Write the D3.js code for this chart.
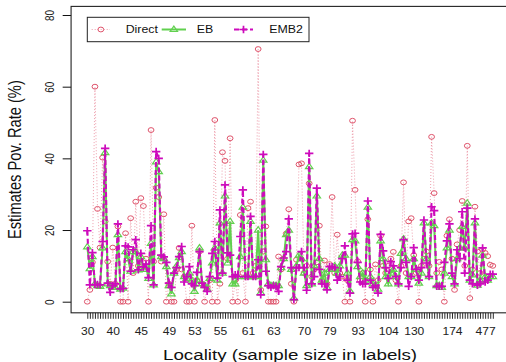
<!DOCTYPE html>
<html>
<head>
<meta charset="utf-8">
<script src="https://cdn.jsdelivr.net/npm/d3@7/dist/d3.min.js"></script>
<style>
  body { margin: 0; background: #fff; }
  text { font-family: "Liberation Sans", Arial, Helvetica, sans-serif; }
</style>
</head>
<body>
<div id="plot-container"></div>
<script>
// one value per locality, localities sorted by sample size
const direct = [
  0, 3.3, 11, 60, 25.9, 15.1, 40.2, 22.4, 11.2, 5,
  15.1, 5, 21, 0, 0, 19.1, 0, 23.3, 8, 27.9,
  10, 28.9, 26.7, 12, 0, 47.9, 11.2, 31.8, 29.2, 11.2,
  24.4, 0, 5, 0, 0, 9, 15, 9, 7, 0,
  0, 21.2, 0, 6, 14, 5, 0, 4, 6, 0,
  50.7, 0, 5, 41.7, 39.3, 12, 45.6, 0, 6, 0,
  24.2, 8, 0, 26.1, 27.9, 8, 10, 70.5, 3.3, 14,
  21, 0, 0, 0, 0, 12.6, 9, 12, 19, 25.8,
  5, 0, 11.7, 38.3, 38.6, 8, 10, 33, 7, 9,
  11, 21.2, 6, 11.5, 5, 10.5, 29.2, 8, 18.7, 8,
  7, 0, 6, 0, 50.5, 31.2, 11.3, 6, 8, 0,
  23, 9, 0, 10.4, 6, 18.4, 10, 8, 10, 12,
  13.9, 6, 0, 10, 33.3, 8, 22.4, 23.3, 13, 8,
  0, 10, 12, 14, 10, 46, 30.3, 8, 11.1, 9,
  0, 18.4, 23, 12, 3.3, 16, 20, 28.1, 10, 43.5,
  1, 9, 26.5, 14, 8, 14.5, 13.6, 12.7, 10.3, 10
];
const eb = [
  15.3, 9.2, 12.6, 5, 4.5, 4.3, 15, 41.6, 5, 4.5,
  4, 4, 18.7, 3.5, 3.8, 14, 12, 8.5, 14, 14,
  8.9, 12.6, 9, 10, 6.5, 16.3, 4.7, 39, 36.3, 12.6,
  12, 9.8, 4.5, 2.2, 8, 10, 12.3, 14, 7, 6.5,
  8, 6, 2.9, 6, 15, 5, 4.5, 3.5, 6.5, 10.8,
  15, 6, 22, 8, 29.5, 10.8, 22.4, 5, 5, 7,
  12.6, 26.4, 7, 7, 22.4, 7, 7, 20, 2.5, 39.5,
  11.7, 5, 4.5, 4.5, 4.5, 4.5, 9.5, 12, 18.7, 20,
  9, 1, 10, 13, 12, 8, 4.5, 37.7, 5, 10,
  29.5, 12, 6, 8, 4, 9, 9, 10, 8, 10,
  13, 13, 8, 3, 17.3, 17, 9.8, 7, 8, 6,
  26.4, 7, 5, 4.5, 3.5, 17, 12, 7, 5, 8,
  9, 7, 5, 13.5, 17.5, 12, 7, 7, 12, 9,
  5.2, 8, 22, 12, 7, 22, 21.2, 4.5, 4.5, 4,
  8, 15, 20, 7, 5, 12, 15, 21, 15, 27.5,
  6, 7.5, 22, 4.6, 6, 13, 7, 6, 7, 7
];
const emb2 = [
  19.8, 4.7, 13.7, 4.8, 4.8, 4.7, 16.8, 42.8, 5.2, 2.6,
  4.5, 5, 21.7, 3.6, 3.7, 15.6, 15.3, 8.5, 14.5, 17.3,
  8.9, 13.5, 9.7, 10.5, 6.7, 21.2, 4.7, 41.9, 40, 13,
  12.5, 11, 5.2, 4, 8, 9.5, 12.6, 15.4, 5.5, 7,
  9.8, 5, 4.5, 8.2, 14, 5.2, 4, 2.9, 7, 13.5,
  16.8, 6.6, 25.6, 8, 32.6, 13.6, 13, 7, 7.5, 7,
  18.2, 31.2, 7, 7, 23.8, 7, 7, 11.7, 1.9, 41.1,
  8.5, 4.5, 4, 4.5, 4.3, 2.9, 9.8, 12.2, 14, 23.1,
  9.5, 0.6, 9.5, 9.5, 14, 9.5, 3.2, 41.4, 5, 7,
  31.7, 9, 5, 5, 3.3, 9.8, 9.8, 9.5, 6, 7,
  12, 15.6, 6, 2.4, 18.9, 19.1, 11, 5.5, 5, 5,
  28.1, 6, 4, 4.5, 2.4, 18.8, 14.2, 9.5, 6.5, 11.2,
  10, 7, 5, 9.5, 17.3, 11, 4.3, 7, 15.1, 9,
  6, 9.5, 22.8, 10.8, 7, 26.5, 25.4, 4.3, 4.3, 4.3,
  11, 17, 21.7, 8, 5, 14.5, 12, 25.1, 8, 26.1,
  6, 5, 23.1, 4.6, 5, 15, 5.5, 6, 7.7, 7.7
];

// sample sizes that fit as labels, and the locality they sit under
const sampleLabels = ['30', '40', '45', '49', '53', '55', '61', '63', '70', '79', '93', '104', '130', '174', '477'];
const sampleLabelAt = [1, 11, 22, 33, 43, 53, 64, 74, 86, 96, 107, 119, 129, 144, 157];

const seriesNames = ['Direct', 'EB', 'EMB2'];
const seriesColors = ['#DF536B', '#61D04F', '#CD0BBC'];
const yTicks = [0, 20, 40, 60, 80];

const canvasWidth = 506;
const canvasHeight = 362;
const sx = 1.21; // the reference picture is stretched sideways, text too

const svg = d3.select('#plot-container')
  .append('svg')
  .attr('width', canvasWidth)
  .attr('height', canvasHeight);

const n = direct.length;
const idx = d3.range(1, n + 1);

const xScale = d3.scaleLinear().domain([1, n]).range([87.3, 492.8]);
const yScale = d3.scaleLinear().domain([0, 80]).range([301.7, 15]);

const boxLeft = xScale(1 - 0.04 * (n - 1));
const boxRight = xScale(n + 0.04 * (n - 1));
const boxTop = yScale(82.4);
const boxBottom = yScale(-3.1);

// x axis: a tick for every locality, labels only where they fit
const labelMap = new Map(sampleLabelAt.map((d, i) => [d, sampleLabels[i]]));
const xAxis = d3.axisBottom(xScale)
  .tickValues(idx)
  .tickSize(6)
  .tickPadding(9.3)
  .tickFormat(d => labelMap.get(d) || '');

const gx = svg.append('g')
  .attr('transform', `translate(0, ${boxBottom})`)
  .call(xAxis);
gx.select('.domain').remove();
gx.selectAll('.tick line').attr('stroke', '#111').attr('stroke-width', 0.9);
gx.selectAll('.tick text')
  .attr('font-size', 10)
  .attr('fill', '#222')
  .attr('font-family', '"Liberation Sans", Arial, sans-serif')
  .attr('transform', `scale(${sx},1)`);

const yAxis = d3.axisLeft(yScale).tickValues(yTicks).tickSize(8.4);
const gy = svg.append('g')
  .attr('transform', `translate(${boxLeft}, 0)`)
  .call(yAxis);
gy.select('.domain').remove();
gy.selectAll('.tick line').attr('stroke', '#111');
gy.selectAll('.tick text')
  .attr('x', 0).attr('dy', 0)
  .attr('text-anchor', 'middle')
  .attr('font-size', 10)
  .attr('fill', '#222')
  .attr('font-family', '"Liberation Sans", Arial, sans-serif')
  .attr('transform', `translate(-16.7, 0) scale(${sx},1) rotate(-90)`);

// plot box
svg.append('rect')
  .attr('x', boxLeft).attr('y', boxTop)
  .attr('width', boxRight - boxLeft).attr('height', boxBottom - boxTop)
  .attr('fill', 'none').attr('stroke', '#222').attr('stroke-width', 1.1);

// axis titles
svg.append('text')
  .attr('text-anchor', 'middle')
  .attr('font-size', 15.5)
  .attr('fill', '#111')
  .attr('transform', `translate(${(boxLeft + boxRight) / 2}, 359.5) scale(${sx},1)`)
  .text('Locality (sample size in labels)');

svg.append('text')
  .attr('text-anchor', 'middle')
  .attr('font-size', 14.7)
  .attr('fill', '#111')
  .attr('transform', `translate(21, ${(boxTop + boxBottom) / 2}) scale(${sx},1) rotate(-90)`)
  .text('Estimates Pov. Rate (%)');

// markers
const circlePath = 'M -2.9 0 A 2.9 2.4 0 1 0 2.9 0 A 2.9 2.4 0 1 0 -2.9 0 Z';
const trianglePath = 'M -3.7 2 L 3.7 2 L 0 -3.4 Z';
const plusPath = 'M -4.2 0 H 4.2 M 0 -3.7 V 3.7';

const series = [
  { values: direct, color: seriesColors[0], width: 0.8, dash: '1,2', opacity: 0.7, marker: circlePath, mw: 1 },
  { values: eb, color: seriesColors[1], width: 2, dash: null, opacity: 1, marker: trianglePath, mw: 1.2 },
  { values: emb2, color: seriesColors[2], width: 2.1, dash: '5,3', opacity: 1, marker: plusPath, mw: 1.7 }
];

const line = d3.line()
  .x((d, i) => xScale(idx[i]))
  .y(d => yScale(d));

series.forEach(s => {
  svg.append('path')
    .attr('d', line(s.values))
    .attr('fill', 'none')
    .attr('stroke', s.color)
    .attr('stroke-width', s.width)
    .attr('stroke-opacity', s.opacity)
    .attr('stroke-dasharray', s.dash);

  svg.append('g')
    .selectAll('path')
    .data(s.values)
    .enter()
    .append('path')
    .attr('d', s.marker)
    .attr('transform', (d, i) => `translate(${xScale(idx[i])}, ${yScale(d)})`)
    .attr('fill', 'none')
    .attr('stroke', s.color)
    .attr('stroke-width', s.mw);
});

// legend
const legend = svg.append('g');
legend.append('rect')
  .attr('x', 87.3).attr('y', 17.3)
  .attr('width', 221.7).attr('height', 24.4)
  .attr('fill', '#fff').attr('stroke', '#222').attr('stroke-width', 1);

const legendLineX = [[91.7, 110], [161.7, 186], [234, 253]];
const legendTextX = [125.7, 196.7, 269.3];
const legendY = 29.5;
series.forEach((s, i) => {
  const [x0, x1] = legendLineX[i];
  legend.append('line')
    .attr('x1', x0).attr('x2', x1).attr('y1', legendY).attr('y2', legendY)
    .attr('stroke', s.color).attr('stroke-width', s.width)
    .attr('stroke-opacity', s.opacity)
    .attr('stroke-dasharray', s.dash);
  legend.append('path')
    .attr('d', s.marker)
    .attr('transform', `translate(${(x0 + x1) / 2}, ${legendY})`)
    .attr('fill', 'none').attr('stroke', s.color).attr('stroke-width', s.mw);
  legend.append('text')
    .attr('font-size', 10.2)
    .attr('fill', '#111')
    .attr('transform', `translate(${legendTextX[i]}, ${legendY + 3.6}) scale(${sx},1)`)
    .text(seriesNames[i]);
});
</script>
</body>
</html>
